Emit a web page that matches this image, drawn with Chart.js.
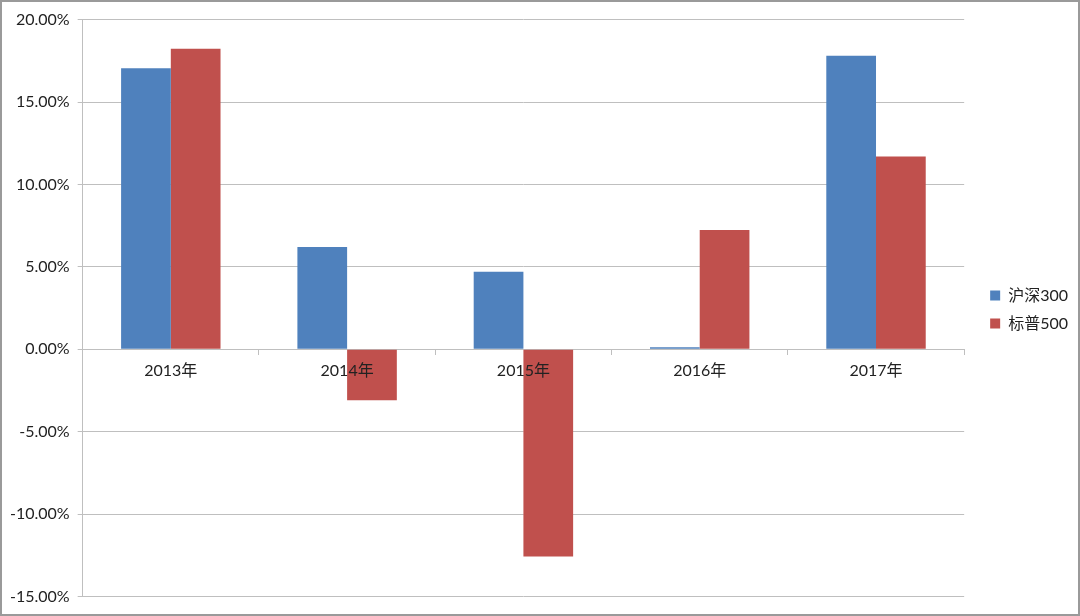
<!DOCTYPE html>
<html>
<head>
<meta charset="utf-8">
<script src="https://cdn.jsdelivr.net/npm/chart.js@4"></script>
<style>
  html, body { margin: 0; padding: 0; background: #fff; }
  #wrap { width: 1080px; height: 616px; box-sizing: border-box; border: 2px solid #9a9a9a; position: relative; }
</style>
</head>
<body>
<div id="wrap"><canvas id="canvas" width="1076" height="612"></canvas></div>
<script>
const years = ["2013年", "2014年", "2015年", "2016年", "2017年"];
const hs300 = [17.05, 6.2, 4.7, 0.12, 17.8];
const sp500 = [18.23, -3.1, -12.58, 7.23, 11.7];

const font = { family: "Lato, 'Noto Sans CJK SC', sans-serif", size: 16 };

const ctx = document.getElementById("canvas").getContext("2d");
const myChart = new Chart(ctx, {
  type: "bar",
  data: {
    labels: years,
    datasets: [
      {
        label: "沪深300",
        data: hs300,
        backgroundColor: "#4F81BD",
        borderWidth: 0,
      },
      {
        label: "标普500",
        data: sp500,
        backgroundColor: "#C0504D",
        borderWidth: 0,
      },
    ],
  },
  options: {
    responsive: false,
    animation: false,
    devicePixelRatio: 1,
    layout: { padding: { left: 0, right: 0, top: 7, bottom: 4 } },
    datasets: {
      bar: { barPercentage: 1, categoryPercentage: 0.564 },
    },
    plugins: {
      tooltip: { enabled: false },
      legend: {
        position: "right",
        labels: {
          font: font,
          color: "#222",
          boxWidth: 10,
          boxHeight: 10,
          padding: 12,
        },
      },
    },
    scales: {
      x: {
        position: { y: 0 },
        offset: true,
        grid: {
          offset: true,
          drawOnChartArea: false,
          drawTicks: true,
          tickLength: 5,
          color: "#bfbfbf",
        },
        border: { color: "#bfbfbf" },
        // labels sit on top of the bars, like in the original
        ticks: { font: font, color: "#222", padding: 7, z: 1 },
      },
      y: {
        min: -15,
        max: 20,
        ticks: {
          stepSize: 5,
          font: font,
          color: "#222",
          padding: 8,
          callback: function (v) {
            return v.toFixed(2) + "%";
          },
        },
        grid: { color: "#bfbfbf", tickLength: 5 },
        border: { color: "#bfbfbf" },
      },
      // empty gap between plot and legend
      gap: {
        type: "linear",
        position: "right",
        grid: { display: false },
        ticks: { display: false },
        border: { display: false },
        afterFit: function (scale) {
          scale.width = 14;
        },
      },
    },
  },
});
</script>
</body>
</html>
